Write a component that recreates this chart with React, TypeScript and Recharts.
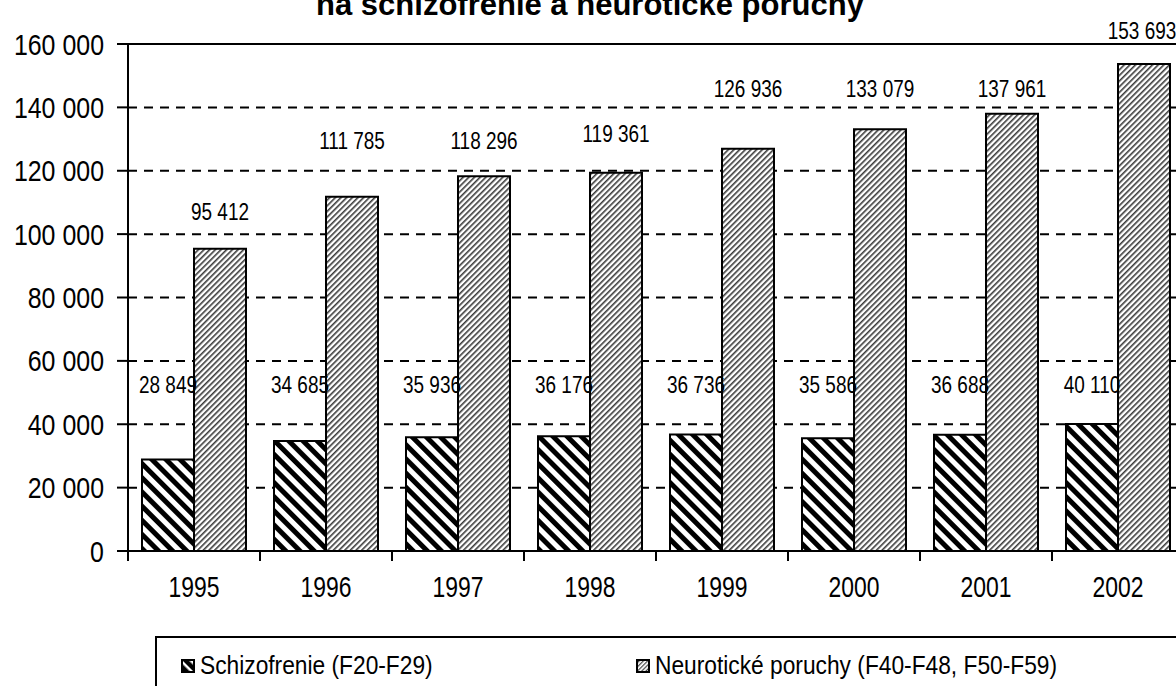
import React from "react";
import {
  BarChart,
  Bar,
  XAxis,
  YAxis,
  CartesianGrid,
  ReferenceLine,
  LabelList,
} from "recharts";

const years = ["1995", "1996", "1997", "1998", "1999", "2000", "2001", "2002"];
const schizo = [28849, 34685, 35936, 36176, 36736, 35586, 36688, 40110];
const neuro = [95412, 111785, 118296, 119361, 126936, 133079, 137961, 153693];
const yTicks = [0, 20000, 40000, 60000, 80000, 100000, 120000, 140000, 160000];

// where the value labels sit (in axis units), hand placed like in the original sheet
const schizoLabelAt = [52700, 52700, 52700, 52700, 52700, 52700, 52700, 52700];
const neuroLabelAt = [107000, 129700, 129700, 131900, 146100, 146100, 146100, 164400];

const data = years.map((year, i) => ({ year, schizo: schizo[i], neuro: neuro[i] }));

// no narrow face installed, so the regular one gets squeezed horizontally
const FONT = '"Liberation Sans", Arial, sans-serif';
const PAGE_W = 1176;

const fmt = (v: number) => String(v).replace(/\B(?=(\d{3})+(?!\d))/g, " ");

function NarrowText({ x, y, size, sx, anchor, children }: any) {
  return (
    <g transform={`translate(${x},${y}) scale(${sx},1)`}>
      <text x={0} y={0} textAnchor={anchor} fontFamily={FONT} fontSize={size} fill="#000">
        {children}
      </text>
    </g>
  );
}

const makeLabel = (levels: number[]) => (props: any) => {
  const { x, y, width, height, value, index } = props;
  const base = Number(y) + Number(height);
  const perUnit = Number(height) / Number(value);
  const cy = base - levels[index] * perUnit;
  // keep the label inside the page, the last column is clipped by the frame
  const cx = Math.min(Number(x) + Number(width) / 2, PAGE_W - 34);
  return (
    <NarrowText x={cx} y={cy + 8.5} size={24} sx={0.79} anchor="middle">
      {fmt(Number(value))}
    </NarrowText>
  );
};

const YearTick = (props: any) => {
  const { x, y, payload } = props;
  const half = payload && payload.offset ? payload.offset : 66;
  return (
    <g>
      <line x1={x - half} x2={x - half} y1={y} y2={y + 10} stroke="#000" strokeWidth={2} />
      <NarrowText x={x} y={y + 46} size={29} sx={0.79} anchor="middle">
        {payload.value}
      </NarrowText>
    </g>
  );
};

const ValueTick = (props: any) => {
  const { x, y, payload } = props;
  return (
    <NarrowText x={x} y={y + 10.5} size={29} sx={0.86} anchor="end">
      {fmt(Number(payload.value))}
    </NarrowText>
  );
};

function LegendIcon({ kind }: { kind: "schizo" | "neuro" }) {
  const id = "leg-" + kind;
  return (
    <svg width={14} height={14} style={{ display: "block" }}>
      <defs>
        {kind === "schizo" ? (
          <pattern id={id} patternUnits="userSpaceOnUse" width={7} height={7} patternTransform="rotate(-45)">
            <rect width={7} height={7} fill="#fff" />
            <rect width={4.5} height={7} fill="#000" />
          </pattern>
        ) : (
          <pattern id={id} patternUnits="userSpaceOnUse" width={3} height={3} patternTransform="rotate(45)">
            <rect width={3} height={3} fill="#fff" />
            <rect width={1.2} height={3} fill="#444" />
          </pattern>
        )}
      </defs>
      <rect x={1} y={1} width={12} height={12} fill={`url(#${id})`} stroke="#000" strokeWidth={2} />
    </svg>
  );
}

const legendText: React.CSSProperties = {
  display: "inline-block",
  transform: "scaleX(0.91)",
  transformOrigin: "left center",
  whiteSpace: "nowrap",
};

export default function App() {
  return (
    <div
      style={{
        position: "fixed",
        left: 0,
        top: 0,
        width: PAGE_W,
        height: 686,
        overflow: "hidden",
        background: "#fff",
      }}
    >
      <div
        style={{
          position: "absolute",
          left: 0,
          right: 0,
          top: -13,
          textAlign: "center",
          fontFamily: FONT,
          fontWeight: "bold",
          fontSize: 31,
          lineHeight: "36px",
          paddingLeft: 4,
        }}
      >
        na schizofrenie a neurotické poruchy
      </div>

      <div style={{ position: "absolute", left: 0, top: 0 }}>
        <BarChart
          width={1190}
          height={686}
          data={data}
          margin={{ top: 44, right: 6, left: 0, bottom: 75 }}
          barCategoryGap={14}
          barGap={0}
        >
          <defs>
            <pattern id="pat-schizo" patternUnits="userSpaceOnUse" width={10} height={10} patternTransform="rotate(-45)">
              <rect width={10} height={10} fill="#fff" />
              <rect width={5} height={10} fill="#000" />
            </pattern>
            <pattern id="pat-neuro" patternUnits="userSpaceOnUse" width={4} height={4} patternTransform="rotate(45)">
              <rect width={4} height={4} fill="#fff" />
              <rect width={1.6} height={4} fill="#3a3a3a" />
            </pattern>
          </defs>
          <CartesianGrid
            vertical={false}
            stroke="#000"
            strokeWidth={2}
            strokeDasharray="9 7"
          />
          <ReferenceLine y={160000} stroke="#000" strokeWidth={2} ifOverflow="extendDomain" />
          <XAxis
            dataKey="year"
            height={60}
            axisLine={{ stroke: "#000", strokeWidth: 2 }}
            tickLine={false}
            tickSize={0}
            tickMargin={0}
            tick={<YearTick />}
            interval={0}
          />
          <YAxis
            width={128}
            domain={[0, 160000]}
            ticks={yTicks}
            interval={0}
            axisLine={{ stroke: "#000", strokeWidth: 2 }}
            tickLine={{ stroke: "#000", strokeWidth: 2 }}
            tickSize={11}
            tickMargin={13}
            tick={<ValueTick />}
          />
          <Bar dataKey="schizo" fill="url(#pat-schizo)" stroke="#000" strokeWidth={2} isAnimationActive={false}>
            <LabelList dataKey="schizo" content={makeLabel(schizoLabelAt)} />
          </Bar>
          <Bar dataKey="neuro" fill="url(#pat-neuro)" stroke="#000" strokeWidth={2} isAnimationActive={false}>
            <LabelList dataKey="neuro" content={makeLabel(neuroLabelAt)} />
          </Bar>
        </BarChart>
      </div>

      <div
        style={{
          position: "absolute",
          left: 155,
          top: 636,
          width: 1100,
          height: 80,
          border: "2px solid #000",
          fontFamily: FONT,
          fontSize: 25,
          color: "#000",
        }}
      >
        <div style={{ position: "absolute", left: 24, top: 13, display: "flex", alignItems: "center", gap: 5 }}>
          <LegendIcon kind="schizo" />
          <span style={legendText}>Schizofrenie (F20-F29)</span>
        </div>
        <div style={{ position: "absolute", left: 479, top: 13, display: "flex", alignItems: "center", gap: 5 }}>
          <LegendIcon kind="neuro" />
          <span style={legendText}>Neurotické poruchy (F40-F48, F50-F59)</span>
        </div>
      </div>
    </div>
  );
}
